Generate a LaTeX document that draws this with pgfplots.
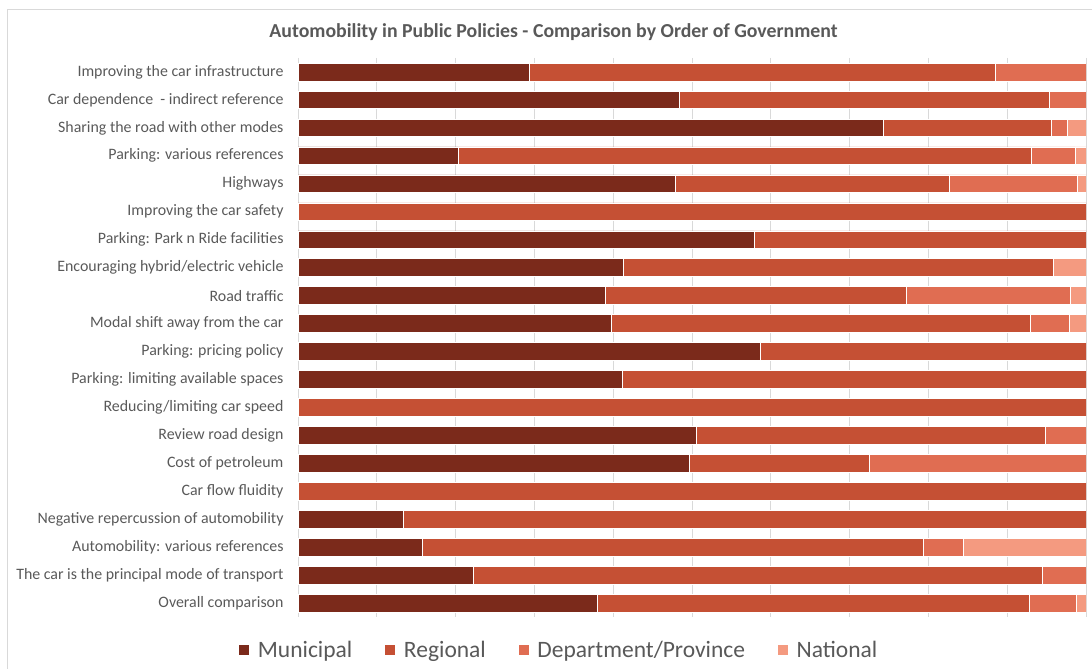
\documentclass[border=0pt]{standalone}
\usepackage{pgfplots}
\pgfplotsset{compat=1.18}
\usepackage{pgfplotstable}
\usepackage{fontspec}
\setmainfont{Carlito}
\definecolor{cM}{HTML}{7B2A1B}
\definecolor{cR}{HTML}{C55034}
\definecolor{cD}{HTML}{E06D52}
\definecolor{cN}{HTML}{F49A80}
\definecolor{txt}{HTML}{595959}
\definecolor{grd}{HTML}{D9D9D9}
\pgfplotstableread{
y M R D N
0 29.4 59.1 11.5 0
1 48.4 47.0 4.6 0
2 74.3 21.3 2.0 2.4
3 20.3 72.7 5.6 1.4
4 47.9 34.8 16.2 1.1
5 0 100 0 0
6 57.9 42.1 0 0
7 41.3 54.6 0 4.1
8 39.0 38.2 20.8 2.0
9 39.8 53.1 5.0 2.1
10 58.7 41.3 0 0
11 41.2 58.8 0 0
12 0 100 0 0
13 50.5 44.3 5.2 0
14 49.6 22.9 27.5 0
15 0 100 0 0
16 13.4 86.6 0 0
17 15.8 63.6 5.0 15.6
18 22.3 72.2 5.5 0
19 38.0 54.8 6.0 1.2
}\data
\begin{document}
\begin{tikzpicture}[x=1pt,y=1pt]
\useasboundingbox (0,0) rectangle (1092,669);
\draw[grd, line width=0.8pt] (7,0) -- (7,660) -- (1092,660);
\node[text=txt,font=\fontsize{19.8}{24}\selectfont\bfseries] at (553.5,637) {Automobility in Public Policies - Comparison by Order of Government};
\begin{axis}[
  at={(298pt,52pt)}, anchor=south west,
  scale only axis, width=788pt, height=559pt,
  xbar stacked, bar width=17.7pt,
  xmin=0, xmax=100, ymin=-0.5, ymax=19.5, y dir=reverse,
  xtick={0,10,...,100}, xticklabels={},
  xmajorgrids, grid style={grd, line width=0.8pt},
  major tick length=0pt,
  axis line style={draw=none},
  ytick={0,...,19},
  yticklabels={Improving the car infrastructure, Car dependence\ \ - indirect reference, Sharing the road with other modes, Parking: various references, Highways, Improving the car safety, Parking: Park n Ride facilities, Encouraging hybrid/electric vehicle, Road traffic, Modal shift away from the car, Parking: pricing policy, Parking: limiting available spaces, Reducing/limiting car speed, Review road design, Cost of petroleum, Car flow fluidity, Negative repercussion of automobility, Automobility: various references, The car is the principal mode of transport, Overall comparison},
  yticklabel style={font=\fontsize{15.9}{18}\selectfont, text=txt, anchor=east, xshift=-11pt},
  legend columns=4,
  legend style={draw=none, at={(axis description cs:0.331,-0.059)}, anchor=center, font=\fontsize{23.5}{28}\selectfont, text=txt,
    /tikz/every odd column/.append style={column sep=6pt},
    /tikz/every even column/.append style={column sep=30pt}},
  legend image code/.code={\fill[#1] (0pt,-5.5pt) rectangle (11pt,5.5pt);},
  every axis plot/.append style={draw=white, line width=0.6pt},
]
\addplot[fill=cM] table[x=M,y=y]{\data};
\addplot[fill=cR] table[x=R,y=y]{\data};
\addplot[fill=cD] table[x=D,y=y]{\data};
\addplot[fill=cN] table[x=N,y=y]{\data};
\legend{Municipal, Regional, Department/Province, National}
\end{axis}
\end{tikzpicture}
\end{document}
